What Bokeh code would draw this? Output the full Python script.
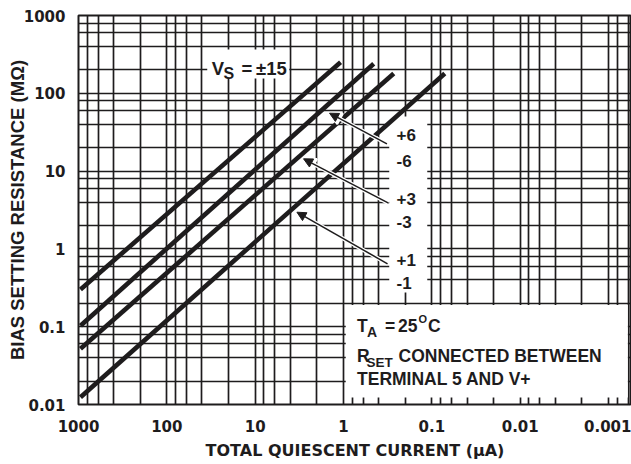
from bokeh.plotting import figure
from bokeh.models import Range1d, FixedTicker, BoxAnnotation, Label, Arrow, NormalHead
from bokeh.embed import file_html
from bokeh.resources import INLINE

# ---------------- data ----------------
x_ticks = [1000, 100, 10, 1, 0.1, 0.01, 0.001]
x_tick_labels = ["1000", "100", "10", "1", "0.1", "0.01", "0.001"]
y_ticks = [0.01, 0.1, 1, 10, 100, 1000]
y_tick_labels = ["0.01", "0.1", "1", "10", "100", "1000"]
minor_multipliers = [2, 4, 6, 8]

# bias setting resistance (MOhm) vs total quiescent current (uA), straight on log-log
vs15_current = [950, 1.08]
vs15_resistance = [0.30, 250]
vs6_current = [950, 0.455]
vs6_resistance = [0.103, 240]
vs3_current = [950, 0.27]
vs3_resistance = [0.052, 180]
vs1_current = [950, 0.0714]
vs1_resistance = [0.0124, 180]

INK = "#1e1c1d"
FONT = "DejaVu Sans"
NOTE_FONT = "Liberation Sans"

minor = [m * 10.0 ** e for e in range(-4, 4) for m in minor_multipliers]

p = figure(width=631, height=464, x_axis_type="log", y_axis_type="log",
           x_range=Range1d(1000, 0.00055), y_range=Range1d(0.01, 1000),
           output_backend="svg", toolbar_location=None, title=None,
           min_border_left=78, min_border_right=0, min_border_top=15,
           min_border_bottom=60, background_fill_color="white",
           border_fill_color="white")
p.outline_line_color = INK
p.outline_line_width = 2

xt = FixedTicker(ticks=x_ticks, minor_ticks=minor)
yt = FixedTicker(ticks=y_ticks, minor_ticks=minor)
p.xaxis[0].ticker = xt
p.yaxis[0].ticker = yt
p.xgrid[0].ticker = xt
p.ygrid[0].ticker = yt
p.xaxis[0].major_label_overrides = dict(zip(x_ticks, x_tick_labels))
p.yaxis[0].major_label_overrides = dict(zip(y_ticks, y_tick_labels))

for ax in (p.xaxis[0], p.yaxis[0]):
    ax.axis_line_color = None
    ax.major_tick_line_color = None
    ax.minor_tick_line_color = None
    ax.major_label_text_font = FONT
    ax.major_label_text_font_style = "bold"
    ax.major_label_text_font_size = "15px"
    ax.major_label_text_color = INK
    ax.axis_label_text_font_style = "bold"
    ax.axis_label_text_color = INK

p.xaxis[0].axis_label = "TOTAL QUIESCENT CURRENT (\u00b5A)"
p.yaxis[0].axis_label = "BIAS SETTING RESISTANCE (M\u03a9)"
p.xaxis[0].axis_label_text_font = FONT
p.xaxis[0].axis_label_text_font_size = "16px"
p.yaxis[0].axis_label_text_font = NOTE_FONT
p.yaxis[0].axis_label_text_font_size = "18.5px"
p.xaxis[0].major_label_standoff = 9
p.xaxis[0].axis_label_standoff = 6
p.yaxis[0].major_label_standoff = 7
p.yaxis[0].axis_label_standoff = -7

for g in (p.xgrid[0], p.ygrid[0]):
    g.level = "image"
    g.grid_line_color = INK
    g.grid_line_width = 1.7
    g.grid_line_alpha = 1
    g.minor_grid_line_color = INK
    g.minor_grid_line_width = 1.7
    g.minor_grid_line_alpha = 1

# white panels behind the annotations
for l, r, b, t in ((34.9, 4.12, 154.9, 365.6),
                   (0.3038, 0.1128, 0.2752, 50.3),
                   (0.944, 0.000605, 0.0123, 0.190)):
    p.add_layout(BoxAnnotation(left=l, right=r, bottom=b, top=t, fill_color="white",
                               fill_alpha=1, line_color=None, level="underlay"))

for cx, ry in ((vs15_current, vs15_resistance), (vs6_current, vs6_resistance),
               (vs3_current, vs3_resistance), (vs1_current, vs1_resistance)):
    p.line(cx, ry, line_width=4.6, line_color=INK, line_cap="butt")

# arrows (white casing, then black)
arrows = [((0.3226, 22.4), (1.44, 55.5)),
          ((0.3093, 3.868), (2.836, 14.39)),
          ((0.3175, 0.6435), (3.37, 2.963))]
for (x0, y0), (x1, y1) in arrows:
    p.add_layout(Arrow(end=NormalHead(size=12, fill_color="white", line_color="white", line_width=2),
                       x_start=x0, y_start=y0, x_end=x1, y_end=y1,
                       line_color="white", line_width=4))
for (x0, y0), (x1, y1) in arrows:
    p.add_layout(Arrow(end=NormalHead(size=9, fill_color=INK, line_color=INK, line_width=1),
                       x_start=x0, y_start=y0, x_end=x1, y_end=y1,
                       line_color=INK, line_width=1.5))


def lab(x, y, text, size="17.5px"):
    p.add_layout(Label(x=x, y=y, text=text, text_font=NOTE_FONT, text_font_style="bold",
                       text_font_size=size, text_color=INK, text_align="left",
                       text_baseline="alphabetic"))


# V_S = +-15
lab(31.05, 206.5, "V", "18.5px")
lab(22.84, 178.1, "S", "16px")
lab(14.28, 206.5, "=", "18.5px")
lab(9.79, 206.5, "\u00b115", "18.5px")

# supply labels
for y, t in ((28.7, "+6"), (13.68, "-6"), (4.405, "+3"), (2.204, "-3"),
             (0.7245, "+1"), (0.3623, "-1")):
    lab(0.2513, y, t, "17px")

# conditions box
lab(0.7036, 0.1036, "T")
lab(0.5421, 0.0850, "A", "14px")
lab(0.3392, 0.1036, "=")
lab(0.2417, 0.1036, "25")
lab(0.1416, 0.1263, "O", "11px")
lab(0.1106, 0.1036, "C")
lab(0.7036, 0.04263, "R")
lab(0.5494, 0.03497, "SET", "13.5px")
lab(0.2385, 0.04263, "CONNECTED BETWEEN")
lab(0.7036, 0.02096, "TERMINAL 5 AND V+")

open("out.html", "w").write(file_html(p, INLINE))
